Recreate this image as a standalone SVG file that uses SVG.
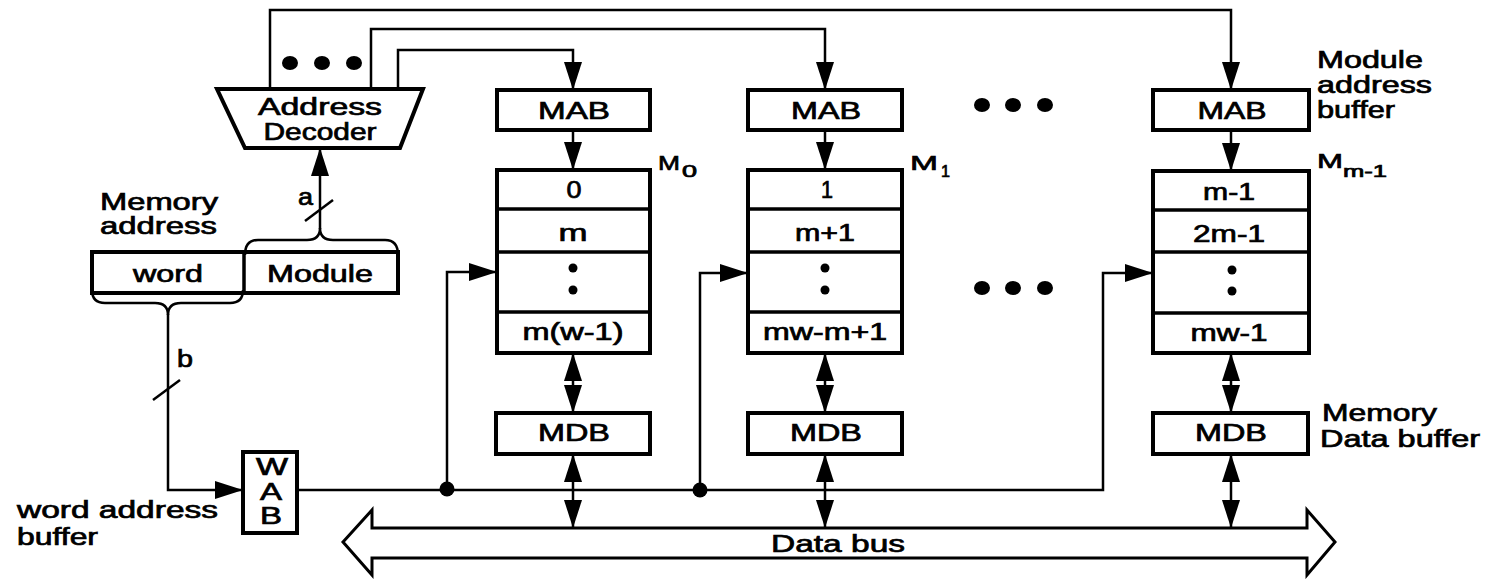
<svg xmlns="http://www.w3.org/2000/svg" width="1486" height="579" viewBox="0 0 1486 579">
<defs>
<marker id="ah" markerUnits="userSpaceOnUse" markerWidth="28" markerHeight="18" refX="28" refY="9" orient="auto-start-reverse" overflow="visible"><path d="M0,0 L28,9 L0,18 z" fill="#000"/></marker>
</defs>
<style>
.box{fill:#fff;stroke:#000;stroke-width:4}
.ln{fill:none;stroke:#000;stroke-width:2.5}
.div{stroke:#000;stroke-width:3.5}
.arr{marker-end:url(#ah)}
.dbl{marker-start:url(#ah);marker-end:url(#ah)}
.dot{fill:#000}
text{font-family:"Liberation Sans",Arial,Helvetica,sans-serif;font-size:23px;fill:#000;stroke:#000;stroke-width:0.7}
.c{text-anchor:middle}
.lbl{font-size:21px}
.sub{font-size:16px}
</style>
<rect width="1486" height="579" fill="#fff"/>

<g id="connectors">
  <path class="ln arr" d="M270,89 L270,10 L1231,10 L1231,90"/>
  <path class="ln arr" d="M371,89 L371,29 L825,29 L825,90"/>
  <path class="ln arr" d="M398,89 L398,50 L573,50 L573,90"/>
  <path class="ln arr" d="M320,229 L320,148"/>
  <line class="ln" x1="305" y1="221" x2="333" y2="200"/>
  <path class="ln arr" d="M168,314 L168,490 L243,490"/>
  <line class="ln" x1="153" y1="400" x2="180" y2="380"/>
  <path class="ln arr" d="M297,490 L1103,490 L1103,273 L1153,273"/>
  <path class="ln arr" d="M447,490 L447,272 L497,272"/>
  <path class="ln arr" d="M700,490 L700,273 L748,273"/>
  <circle class="dot" cx="447" cy="489" r="7.5"/>
  <circle class="dot" cx="700" cy="490" r="7.5"/>
  <path class="ln arr" d="M573,130 L573,170"/>
  <path class="ln arr" d="M825,130 L825,170"/>
  <path class="ln arr" d="M1231,130 L1231,171"/>
  <path class="ln dbl" d="M573,353 L573,413"/>
  <path class="ln dbl" d="M825,353 L825,413"/>
  <path class="ln dbl" d="M1231,353 L1231,413"/>
  <path class="ln dbl" d="M573,454 L573,528"/>
  <path class="ln dbl" d="M825,454 L825,528"/>
  <path class="ln dbl" d="M1231,454 L1231,528"/>
</g>

<g id="address-decoder">
  <polygon class="box" points="217,89 423,89 400,148 245,148"/>
  <text x="320" y="115" class="c" textLength="124" lengthAdjust="spacingAndGlyphs">Address</text>
  <text x="320" y="140" class="c" textLength="113" lengthAdjust="spacingAndGlyphs">Decoder</text>
  <ellipse class="dot" cx="290" cy="63" rx="8" ry="7"/>
  <ellipse class="dot" cx="322" cy="63" rx="8" ry="7"/>
  <ellipse class="dot" cx="354" cy="63" rx="8" ry="7"/>
</g>

<g id="memory-address">
  <text x="100" y="210" textLength="118" lengthAdjust="spacingAndGlyphs">Memory</text>
  <text x="100" y="234" textLength="117" lengthAdjust="spacingAndGlyphs">address</text>
  <rect class="box" x="92" y="252" width="306" height="41"/>
  <line class="div" x1="244" y1="252" x2="244" y2="293"/>
  <text x="168" y="282" class="c" textLength="70" lengthAdjust="spacingAndGlyphs">word</text>
  <text x="320" y="282" class="c" textLength="106" lengthAdjust="spacingAndGlyphs">Module</text>
  <path class="ln" d="M245,255 Q245,240 258,240 L307,240 Q320,240 320,228 Q320,240 333,240 L385,240 Q398,240 398,255"/>
  <path class="ln" d="M92,290 Q92,303 105,303 L155,303 Q168,303 168,315 Q168,303 181,303 L230,303 Q243,303 243,290"/>
  <text x="298" y="205" textLength="15" lengthAdjust="spacingAndGlyphs">a</text>
  <text x="177" y="367" textLength="16" lengthAdjust="spacingAndGlyphs">b</text>
</g>

<g id="wab">
  <rect class="box" x="243" y="452" width="54" height="81"/>
  <text x="272" y="475" class="c" textLength="32" lengthAdjust="spacingAndGlyphs">W</text>
  <text x="271" y="500" class="c" textLength="22" lengthAdjust="spacingAndGlyphs">A</text>
  <text x="271" y="524" class="c" textLength="22" lengthAdjust="spacingAndGlyphs">B</text>
  <text x="17" y="518" textLength="201" lengthAdjust="spacingAndGlyphs">word address</text>
  <text x="17" y="545" textLength="81" lengthAdjust="spacingAndGlyphs">buffer</text>
</g>

<g id="module-0">
  <rect class="box" x="497" y="90" width="153" height="40"/>
  <text x="574" y="119" class="c" textLength="72" lengthAdjust="spacingAndGlyphs">MAB</text>
  <rect class="box" x="497" y="170" width="153" height="183"/>
  <line class="div" x1="497" y1="209" x2="650" y2="209"/>
  <line class="div" x1="497" y1="252" x2="650" y2="252"/>
  <line class="div" x1="497" y1="312" x2="650" y2="312"/>
  <text x="574" y="198" class="c" textLength="15" lengthAdjust="spacingAndGlyphs">0</text>
  <text x="573" y="241" class="c" textLength="29" lengthAdjust="spacingAndGlyphs">m</text>
  <circle class="dot" cx="573" cy="268" r="4.5"/>
  <circle class="dot" cx="573" cy="290" r="4.5"/>
  <text x="573" y="340" class="c" textLength="101" lengthAdjust="spacingAndGlyphs">m(w-1)</text>
  <text x="658" y="170" class="lbl" textLength="22" lengthAdjust="spacingAndGlyphs">M</text>
  <text x="682" y="177" class="sub" textLength="15" lengthAdjust="spacingAndGlyphs">0</text>
  <rect class="box" x="496" y="413" width="154" height="41"/>
  <text x="574" y="441" class="c" textLength="72" lengthAdjust="spacingAndGlyphs">MDB</text>
</g>

<g id="module-1">
  <rect class="box" x="748" y="90" width="154" height="40"/>
  <text x="826" y="119" class="c" textLength="70" lengthAdjust="spacingAndGlyphs">MAB</text>
  <rect class="box" x="748" y="170" width="154" height="183"/>
  <line class="div" x1="748" y1="209" x2="902" y2="209"/>
  <line class="div" x1="748" y1="252" x2="902" y2="252"/>
  <line class="div" x1="748" y1="312" x2="902" y2="312"/>
  <text x="827" y="198" class="c" textLength="12" lengthAdjust="spacingAndGlyphs">1</text>
  <text x="825" y="241" class="c" textLength="60" lengthAdjust="spacingAndGlyphs">m+1</text>
  <circle class="dot" cx="825" cy="268" r="4.5"/>
  <circle class="dot" cx="825" cy="290" r="4.5"/>
  <text x="825" y="340" class="c" textLength="124" lengthAdjust="spacingAndGlyphs">mw-m+1</text>
  <text x="910" y="170" class="lbl" textLength="28" lengthAdjust="spacingAndGlyphs">M</text>
  <text x="941" y="177" class="sub" textLength="9" lengthAdjust="spacingAndGlyphs">1</text>
  <rect class="box" x="748" y="413" width="154" height="41"/>
  <text x="826" y="441" class="c" textLength="72" lengthAdjust="spacingAndGlyphs">MDB</text>
</g>

<g id="ellipsis">
  <ellipse class="dot" cx="982" cy="105" rx="8" ry="7"/>
  <ellipse class="dot" cx="1013" cy="105" rx="8" ry="7"/>
  <ellipse class="dot" cx="1045" cy="105" rx="8" ry="7"/>
  <ellipse class="dot" cx="982" cy="288" rx="8" ry="7"/>
  <ellipse class="dot" cx="1013" cy="288" rx="8" ry="7"/>
  <ellipse class="dot" cx="1045" cy="288" rx="8" ry="7"/>
</g>

<g id="module-m-1">
  <rect class="box" x="1153" y="90" width="156" height="40"/>
  <text x="1232" y="119" class="c" textLength="69" lengthAdjust="spacingAndGlyphs">MAB</text>
  <rect class="box" x="1153" y="171" width="156" height="182"/>
  <line class="div" x1="1153" y1="210" x2="1309" y2="210"/>
  <line class="div" x1="1153" y1="252" x2="1309" y2="252"/>
  <line class="div" x1="1153" y1="313" x2="1309" y2="313"/>
  <text x="1229" y="200" class="c" textLength="52" lengthAdjust="spacingAndGlyphs">m-1</text>
  <text x="1229" y="242" class="c" textLength="72" lengthAdjust="spacingAndGlyphs">2m-1</text>
  <circle class="dot" cx="1232" cy="270" r="4.5"/>
  <circle class="dot" cx="1232" cy="291" r="4.5"/>
  <text x="1229" y="341" class="c" textLength="77" lengthAdjust="spacingAndGlyphs">mw-1</text>
  <text x="1317" y="168" class="lbl" textLength="26" lengthAdjust="spacingAndGlyphs">M</text>
  <text x="1343" y="177" class="sub" textLength="44" lengthAdjust="spacingAndGlyphs">m-1</text>
  <rect class="box" x="1153" y="413" width="155" height="41"/>
  <text x="1231" y="441" class="c" textLength="72" lengthAdjust="spacingAndGlyphs">MDB</text>
  <text x="1317" y="68" textLength="106" lengthAdjust="spacingAndGlyphs">Module</text>
  <text x="1317" y="93" textLength="115" lengthAdjust="spacingAndGlyphs">address</text>
  <text x="1317" y="118" textLength="78" lengthAdjust="spacingAndGlyphs">buffer</text>
  <text x="1322" y="421" textLength="115" lengthAdjust="spacingAndGlyphs">Memory</text>
  <text x="1320" y="447" textLength="160" lengthAdjust="spacingAndGlyphs">Data buffer</text>
</g>

<g id="data-bus">
  <polygon points="343,542 372,510 372,528 1307,528 1307,510 1335,542 1307,575 1307,558 372,558 372,575" style="fill:none;stroke:#000;stroke-width:3"/>
  <text x="838" y="552" class="c" textLength="134" lengthAdjust="spacingAndGlyphs">Data bus</text>
</g>
</svg>
